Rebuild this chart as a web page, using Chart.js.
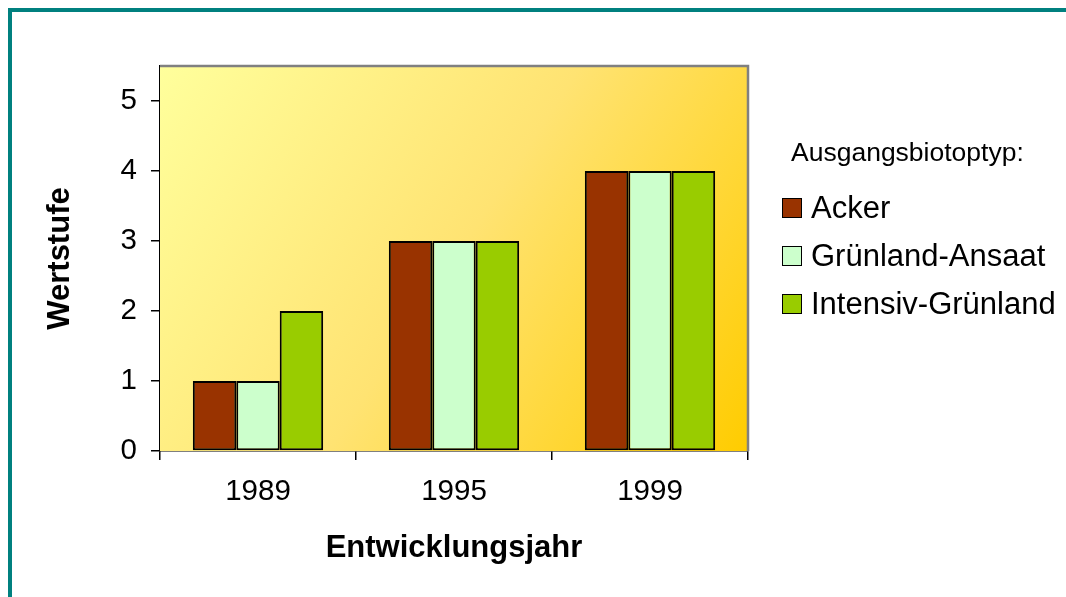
<!DOCTYPE html>
<html>
<head>
<meta charset="utf-8">
<script src="https://cdn.jsdelivr.net/npm/chart.js@4/dist/chart.umd.min.js"></script>
<style>
  html, body { margin: 0; padding: 0; background: #fff; overflow: hidden; }
  #wrap { position: relative; width: 1066px; height: 597px; font-family: "Liberation Sans", Arial, sans-serif; }
  #frame { position: absolute; left: 8px; top: 8px; width: 1200px; height: 800px; border-left: 4.5px solid #00807f; border-top: 4.5px solid #00807f; }
  #chart { position: absolute; left: 0; top: 0; }
  #legend { position: absolute; left: 0; top: 0; color: #000; }
  .lg-title { position: absolute; left: 791px; top: 136px; font-size: 26.5px; line-height: 32px; white-space: nowrap; }
  .lg-item { position: absolute; left: 782px; height: 36px; display: flex; align-items: center; font-size: 31px; white-space: nowrap; }
  .lg-box { width: 18px; height: 18px; border: 1.5px solid #000; margin-right: 9px; }
</style>
</head>
<body>
<div id="wrap">
  <div id="frame"></div>
  <canvas id="chart" width="1066" height="597"></canvas>
  <div id="legend"></div>
</div>
<script>
// chart data
const years = ['1989', '1995', '1999'];
const acker = [1, 3, 4];
const gruenlandAnsaat = [1, 3, 4];
const intensivGruenland = [2, 3, 4];
const seriesNames = ['Acker', 'Grünland-Ansaat', 'Intensiv-Grünland'];
const seriesColors = ['#993300', '#ccffcc', '#99cc00'];
const legendTitle = 'Ausgangsbiotoptyp:';

const font = '"Liberation Sans", Arial, sans-serif';

// yellow plot background + grey frame on top/right
const plotArea = {
  id: 'plotArea',
  beforeDatasetsDraw(chart) {
    const { ctx, chartArea: a } = chart;
    const g = ctx.createLinearGradient(a.left, a.top, a.right, a.bottom);
    g.addColorStop(0, '#ffff9c');
    g.addColorStop(0.5, '#ffe372');
    g.addColorStop(1, '#ffcc00');
    ctx.save();
    ctx.fillStyle = g;
    ctx.fillRect(a.left, a.top, a.right - a.left, a.bottom - a.top);
    ctx.strokeStyle = '#808080';
    ctx.lineWidth = 2.5;
    ctx.beginPath();
    ctx.moveTo(a.left, a.top);
    ctx.lineTo(a.right, a.top);
    ctx.lineTo(a.right, a.bottom);
    ctx.stroke();
    ctx.restore();
  }
};

const datasets = [acker, gruenlandAnsaat, intensivGruenland].map((d, i) => ({
  label: seriesNames[i],
  data: d,
  backgroundColor: seriesColors[i],
  borderColor: '#000',
  borderWidth: 2,
  borderSkipped: false,
  categoryPercentage: 0.665,
  barPercentage: 1.0
}));

new Chart(document.getElementById('chart').getContext('2d'), {
  type: 'bar',
  data: { labels: years, datasets },
  options: {
    responsive: false,
    animation: false,
    layout: { padding: { left: 38, top: 66, right: 318, bottom: 0 } },
    scales: {
      x: {
        afterFit(scale) { scale.height = 146; },
        grid: { drawOnChartArea: false, drawTicks: true, tickLength: 9, offset: true, color: '#000', lineWidth: 1.5 },
        border: { color: '#000', width: 1.5 },
        ticks: { color: '#000', padding: 14, font: { family: font, size: 29.5 } },
        title: { display: true, text: 'Entwicklungsjahr', color: '#000', padding: { top: 4, bottom: 30 }, font: { family: font, size: 31, weight: 'bold' } }
      },
      y: {
        min: 0,
        max: 5.5,
        afterFit(scale) { scale.width = 122; },
        grid: { drawOnChartArea: false, drawTicks: true, tickLength: 9, color: '#000', lineWidth: 1.5 },
        border: { color: '#000', width: 1.5 },
        ticks: { stepSize: 1, includeBounds: false, color: '#000', padding: 14, font: { family: font, size: 29.5 } },
        title: { display: true, text: 'Wertstufe', color: '#000', padding: { top: 4, bottom: 4 }, font: { family: font, size: 31, weight: 'bold' } }
      }
    },
    plugins: {
      legend: { display: false },
      tooltip: { enabled: false }
    }
  },
  plugins: [plotArea]
});

// legend as html text
const legend = document.getElementById('legend');
const t = document.createElement('div');
t.className = 'lg-title';
t.textContent = legendTitle;
legend.appendChild(t);
seriesNames.forEach((name, i) => {
  const row = document.createElement('div');
  row.className = 'lg-item';
  row.style.top = (190 + i * 48) + 'px';
  const box = document.createElement('span');
  box.className = 'lg-box';
  box.style.background = seriesColors[i];
  row.appendChild(box);
  row.appendChild(document.createTextNode(name));
  legend.appendChild(row);
});
</script>
</body>
</html>
